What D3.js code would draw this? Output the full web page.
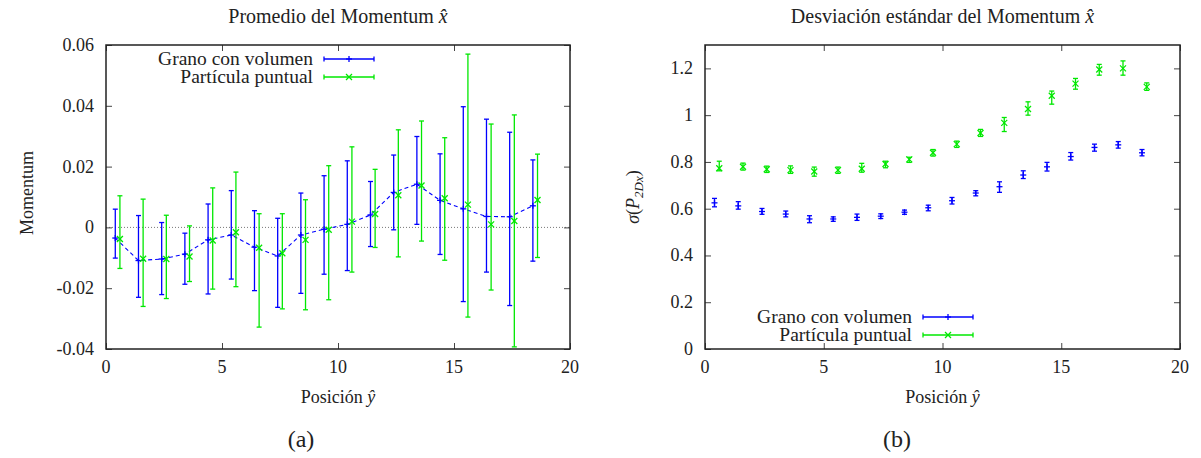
<!DOCTYPE html>
<html>
<head>
<meta charset="utf-8">
<script src="https://cdn.jsdelivr.net/npm/d3@7"></script>
<style>
html,body{margin:0;padding:0;background:#fff;}
svg{display:block;font-family:"Liberation Serif","Times New Roman",serif;}
</style>
</head>
<body>
<svg id="chart" width="1201" height="458"></svg>
<script>
// ---------- data ----------
const posBlue  = [0.4,1.4,2.4,3.4,4.4,5.4,6.4,7.4,8.4,9.4,10.4,11.4,12.4,13.4,14.4,15.4,16.4,17.4,18.4];
const posGreen = [0.6,1.6,2.6,3.6,4.6,5.6,6.6,7.6,8.6,9.6,10.6,11.6,12.6,13.6,14.6,15.6,16.6,17.6,18.6];

const momBlue   = [-0.0035,-0.0109,-0.0104,-0.0088,-0.0041,-0.0025,-0.0065,-0.0094,-0.0025,-0.0006,0.0010,0.0041,0.0115,0.0142,0.0089,0.0061,0.0036,0.0035,0.0071];
const momBlueLo = [-0.0101,-0.0230,-0.0221,-0.0187,-0.0219,-0.0170,-0.0208,-0.0263,-0.0217,-0.0154,-0.0142,-0.0063,-0.0008,0.0010,-0.0089,-0.0244,-0.0147,-0.0257,-0.0111];
const momBlueHi = [0.0060,0.0039,0.0016,-0.0019,0.0077,0.0121,0.0055,0.0030,0.0113,0.0170,0.0219,0.0151,0.0238,0.0299,0.0242,0.0397,0.0356,0.0313,0.0222];

const momGreen   = [-0.0038,-0.0103,-0.0104,-0.0096,-0.0043,-0.0016,-0.0067,-0.0085,-0.0041,-0.0008,0.0019,0.0044,0.0106,0.0138,0.0096,0.0075,0.0010,0.0021,0.0090];
const momGreenLo = [-0.0135,-0.0260,-0.0234,-0.0178,-0.0203,-0.0195,-0.0328,-0.0268,-0.0271,-0.0238,-0.0147,-0.0066,-0.0097,-0.0045,-0.0108,-0.0295,-0.0206,-0.0393,-0.0099];
const momGreenHi = [0.0104,0.0093,0.0040,0.0005,0.0130,0.0182,0.0045,0.0045,0.0091,0.0203,0.0265,0.0191,0.0321,0.0350,0.0295,0.0570,0.0340,0.0370,0.0241];

const sdBlue   = [0.625,0.612,0.588,0.577,0.556,0.556,0.563,0.568,0.585,0.604,0.634,0.667,0.694,0.744,0.779,0.823,0.862,0.873,0.839];
const sdBlueLo = [0.608,0.598,0.576,0.565,0.540,0.546,0.550,0.558,0.576,0.591,0.620,0.655,0.670,0.729,0.761,0.808,0.846,0.859,0.826];
const sdBlueHi = [0.644,0.630,0.601,0.590,0.570,0.565,0.577,0.578,0.594,0.615,0.648,0.677,0.715,0.762,0.798,0.840,0.876,0.887,0.853];

const sdGreen   = [0.773,0.779,0.769,0.765,0.759,0.765,0.771,0.791,0.811,0.839,0.876,0.924,0.967,1.026,1.083,1.135,1.195,1.200,1.121];
const sdGreenLo = [0.762,0.765,0.755,0.751,0.739,0.751,0.756,0.775,0.798,0.825,0.862,0.909,0.930,1.000,1.047,1.111,1.171,1.171,1.106];
const sdGreenHi = [0.803,0.795,0.782,0.783,0.778,0.778,0.794,0.803,0.820,0.853,0.889,0.939,0.990,1.057,1.103,1.157,1.217,1.232,1.138];

const xTicks      = [0,5,10,15,20];
const momTicks    = [-0.04,-0.02,0,0.02,0.04,0.06];
const momTickLbl  = ["-0.04","-0.02","0","0.02","0.04","0.06"];
const sdTicks     = [0,0.2,0.4,0.6,0.8,1,1.2];
const sdTickLbl   = ["0","0.2","0.4","0.6","0.8","1","1.2"];
const seriesNames = ["Grano con volumen","Partícula puntual"];

// ---------- style ----------
const BLUE = "#0000ff", GREEN = "#00e800", INK = "#222";
const svg = d3.select("#chart");

function panel(cfg){
  const g = svg.append("g");
  const x = d3.scaleLinear().domain([0,20]).range([cfg.x0,cfg.x1]);
  const y = d3.scaleLinear().domain(cfg.ydom).range([cfg.y1,cfg.y0]);
  const tl = 6;

  if (cfg.zero){
    g.append("line").attr("x1",x(0)).attr("x2",x(20)).attr("y1",y(0)).attr("y2",y(0))
      .attr("stroke","#777").attr("stroke-width",1).attr("stroke-dasharray","1,2");
  }
  const mk = (axis, tr) => {
    const a = g.append("g").attr("transform",tr).call(axis);
    a.select(".domain").remove();
    a.selectAll("line").attr("stroke","#444").attr("stroke-width",1);
    a.selectAll("text").remove();
  };
  mk(d3.axisBottom(x).tickValues(xTicks).tickSize(-tl), `translate(0,${cfg.y1})`);
  mk(d3.axisTop(x).tickValues(xTicks).tickSize(-tl), `translate(0,${cfg.y0})`);
  mk(d3.axisLeft(y).tickValues(cfg.yticks).tickSize(-tl), `translate(${cfg.x0},0)`);
  mk(d3.axisRight(y).tickValues(cfg.yticks).tickSize(-tl), `translate(${cfg.x1},0)`);

  g.selectAll(".xl").data(xTicks).join("text")
    .attr("x",d=>x(d)).attr("y",cfg.y1+24).attr("text-anchor","middle")
    .attr("font-size",18).attr("fill",INK).text(d=>d);
  g.selectAll(".yl").data(cfg.yticks).join("text")
    .attr("x",cfg.x0-12).attr("y",(d)=>y(d)+6).attr("text-anchor","end")
    .attr("font-size",18).attr("fill",INK).text((d,i)=>cfg.ylabels[i]);

  function errSeries(pos, val, lo, hi, color, marker){
    const s = g.append("g").attr("stroke",color).attr("stroke-width",1.3).attr("fill","none");
    pos.forEach((p,i)=>{
      const px = x(p);
      s.append("line").attr("x1",px).attr("x2",px).attr("y1",y(lo[i])).attr("y2",y(hi[i]));
      s.append("line").attr("x1",px-2.5).attr("x2",px+2.5).attr("y1",y(lo[i])).attr("y2",y(lo[i]));
      s.append("line").attr("x1",px-2.5).attr("x2",px+2.5).attr("y1",y(hi[i])).attr("y2",y(hi[i]));
      drawMarker(s, px, y(val[i]), marker);
    });
  }
  function drawMarker(s, px, py, marker){
    const r = 3;
    if (marker==="+"){
      s.append("line").attr("x1",px-r).attr("x2",px+r).attr("y1",py).attr("y2",py);
      s.append("line").attr("x1",px).attr("x2",px).attr("y1",py-r).attr("y2",py+r);
    } else {
      s.append("line").attr("x1",px-r).attr("x2",px+r).attr("y1",py-r).attr("y2",py+r);
      s.append("line").attr("x1",px-r).attr("x2",px+r).attr("y1",py+r).attr("y2",py-r);
    }
  }
  errSeries(posBlue, cfg.b, cfg.bLo, cfg.bHi, BLUE, "+");
  if (cfg.line){
    g.append("path").datum(posBlue.map((p,i)=>[p,cfg.b[i]]))
      .attr("d", d3.line().x(d=>x(d[0])).y(d=>y(d[1])))
      .attr("fill","none").attr("stroke",BLUE).attr("stroke-width",1.1).attr("stroke-dasharray","4,3");
  }
  errSeries(posGreen, cfg.gr, cfg.gLo, cfg.gHi, GREEN, "x");

  g.append("rect").attr("x",cfg.x0).attr("y",cfg.y0).attr("width",cfg.x1-cfg.x0).attr("height",cfg.y1-cfg.y0)
    .attr("fill","none").attr("stroke","#222").attr("stroke-width",1.5);

  [BLUE,GREEN].forEach((c,i)=>{
    const ly = cfg.legY + i*18;
    g.append("text").attr("x",cfg.legX).attr("y",ly+6).attr("text-anchor","end")
      .attr("font-size",19.5).attr("fill",INK).text(seriesNames[i]);
    const s = g.append("g").attr("stroke",c).attr("stroke-width",1.3);
    const a = cfg.legX+11, b = cfg.legX+61;
    s.append("line").attr("x1",a).attr("x2",b).attr("y1",ly).attr("y2",ly);
    s.append("line").attr("x1",a).attr("x2",a).attr("y1",ly-2.5).attr("y2",ly+2.5);
    s.append("line").attr("x1",b).attr("x2",b).attr("y1",ly-2.5).attr("y2",ly+2.5);
    drawMarker(s,(a+b)/2,ly,i===0?"+":"x");
  });

  const t = g.append("text").attr("x",(cfg.x0+cfg.x1)/2).attr("y",23).attr("text-anchor","middle")
    .attr("font-size",20).attr("fill",INK);
  t.append("tspan").text(cfg.title+" ");
  t.append("tspan").attr("font-style","italic").text("x\u0302");

  const xl = g.append("text").attr("x",(cfg.x0+cfg.x1)/2).attr("y",403).attr("text-anchor","middle")
    .attr("font-size",18).attr("fill",INK);
  xl.append("tspan").text("Posición ");
  xl.append("tspan").attr("font-style","italic").text("y\u0302");

  g.append("text").attr("x",cfg.capX).attr("y",447).attr("text-anchor","middle")
    .attr("font-size",24).attr("fill",INK).text(cfg.cap);
  return g;
}

const gA = panel({x0:106,x1:570,y0:45,y1:349,ydom:[-0.04,0.06],yticks:momTicks,ylabels:momTickLbl,
  b:momBlue,bLo:momBlueLo,bHi:momBlueHi,gr:momGreen,gLo:momGreenLo,gHi:momGreenHi,
  zero:true,line:true,legX:313,legY:59,title:"Promedio del Momentum",capX:301,cap:"(a)"});
gA.append("text").attr("transform","translate(33,193) rotate(-90)").attr("text-anchor","middle")
  .attr("font-size",18).attr("fill",INK).text("Momentum");

const gB = panel({x0:705,x1:1180,y0:45,y1:349,ydom:[0,1.3],yticks:sdTicks,ylabels:sdTickLbl,
  b:sdBlue,bLo:sdBlueLo,bHi:sdBlueHi,gr:sdGreen,gLo:sdGreenLo,gHi:sdGreenHi,
  zero:false,line:false,legX:912,legY:317,title:"Desviación estándar del Momentum",capX:897,cap:"(b)"});
const yl = gB.append("text").attr("transform","translate(639,197) rotate(-90)").attr("text-anchor","middle")
  .attr("font-size",18).attr("fill",INK);
yl.append("tspan").attr("font-style","italic").text("σ");
yl.append("tspan").text("(");
yl.append("tspan").attr("font-style","italic").text("P");
yl.append("tspan").attr("font-style","italic").attr("font-size",13).attr("dy",4).text("2Dx");
yl.append("tspan").attr("dy",-4).text(")");
</script>
</body>
</html>
